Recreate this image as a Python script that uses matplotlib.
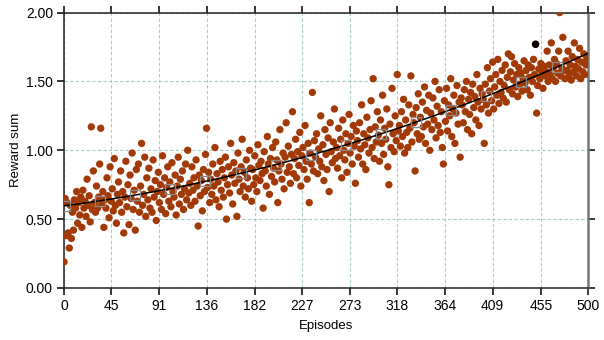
import numpy as np
import matplotlib
matplotlib.use("Agg")
import matplotlib.pyplot as plt

# ---- data ----
reward = [
    0.19, 0.65, 0.38, 0.62, 0.40, 0.29, 0.60, 0.36, 0.55, 0.42, 0.64, 0.58, 0.70, 0.47, 0.62, 0.53, 0.66, 0.44, 0.71, 0.58,
    0.63, 0.52, 0.79, 0.60, 0.67, 0.48, 1.17, 0.57, 0.85, 0.62, 0.55, 0.74, 0.58, 0.66, 0.90, 1.16, 0.61, 0.70, 0.44, 0.64,
    0.58, 0.80, 0.67, 0.51, 0.88, 0.63, 0.72, 0.56, 0.94, 0.60, 0.47, 0.68, 0.77, 0.62, 0.85, 0.55, 0.70, 0.40, 0.66, 0.92,
    0.59, 0.75, 0.46, 0.82, 0.65, 0.98, 0.57, 0.71, 0.42, 0.86, 0.63, 0.90, 0.55, 0.74, 1.05, 0.60, 0.68, 0.95, 0.52, 0.80,
    0.64, 0.87, 0.58, 0.72, 0.55, 0.93, 0.66, 0.78, 0.49, 0.70, 0.84, 0.62, 0.75, 0.57, 0.96, 0.68, 0.80, 0.54, 0.73, 0.88,
    0.63, 0.77, 0.59, 0.91, 0.70, 0.66, 0.82, 0.53, 0.74, 0.95, 0.61, 0.79, 0.68, 0.85, 0.57, 0.72, 0.90, 0.64, 1.00, 0.69,
    0.76, 0.60, 0.88, 0.71, 0.80, 0.63, 0.93, 0.74, 0.45, 0.82, 0.67, 0.78, 0.56, 0.86, 0.70, 0.97, 1.16, 0.73, 0.84, 0.62,
    0.79, 0.68, 0.90, 0.74, 1.02, 0.64, 0.83, 0.77, 0.59, 0.92, 0.71, 0.86, 0.66, 0.80, 0.95, 0.50, 0.75, 0.88, 0.69, 1.05,
    0.82, 0.61, 0.91, 0.76, 0.85, 0.52, 0.98, 0.79, 0.70, 0.88, 1.08, 0.74, 0.84, 0.66, 0.93, 0.80, 0.72, 1.00, 0.87, 0.63,
    0.86, 0.75, 0.96, 0.80, 0.70, 1.04, 0.89, 0.78, 0.92, 0.83, 0.58, 0.99, 0.85, 0.74, 1.10, 0.90, 0.68, 0.94, 0.81, 1.02,
    0.87, 0.77, 1.06, 0.93, 0.62, 0.85, 1.15, 0.90, 0.79, 0.98, 0.72, 0.95, 1.20, 0.84, 1.03, 0.88, 0.76, 0.97, 1.28, 0.83,
    0.94, 1.08, 0.80, 0.99, 0.89, 1.13, 0.74, 0.96, 1.02, 0.86, 1.18, 0.92, 0.79, 1.05, 0.62, 0.98, 0.90, 1.42, 0.85, 1.07,
    0.95, 1.12, 0.83, 1.01, 0.92, 1.25, 0.88, 1.04, 0.78, 1.15, 0.97, 0.86, 1.09, 0.70, 1.20, 0.99, 0.91, 1.06, 1.30, 0.94,
    1.02, 0.87, 1.16, 0.96, 1.08, 0.80, 1.22, 1.00, 0.93, 1.12, 0.84, 1.05, 1.26, 0.98, 1.10, 0.90, 1.18, 1.03, 0.76, 1.14,
    1.07, 0.95, 1.20, 1.01, 1.33, 0.90, 1.12, 1.04, 0.86, 1.24, 1.09, 0.98, 1.15, 1.36, 1.02, 1.52, 0.94, 1.17, 1.06, 1.28,
    1.11, 0.92, 1.22, 1.05, 1.40, 0.97, 1.16, 1.08, 1.30, 0.88, 0.75, 1.19, 1.02, 1.45, 1.12, 0.99, 1.25, 1.07, 1.55, 1.14,
    1.18, 1.03, 1.28, 1.10, 1.37, 0.98, 1.22, 1.13, 1.02, 1.33, 1.16, 1.54, 1.06, 1.26, 1.20, 0.85, 1.31, 1.12, 1.41, 1.08,
    1.24, 1.10, 1.35, 1.17, 1.46, 1.05, 1.29, 1.19, 1.40, 1.00, 1.27, 1.15, 1.38, 1.22, 1.50, 1.09, 1.32, 1.18, 1.44, 1.13,
    1.28, 1.02, 0.90, 1.36, 1.21, 1.45, 1.14, 1.33, 1.25, 1.52, 1.10, 1.30, 1.40, 1.05, 1.27, 1.47, 1.19, 1.35, 0.95, 1.38,
    1.33, 1.20, 1.44, 1.28, 1.50, 1.15, 1.37, 1.26, 1.42, 1.12, 1.48, 1.31, 1.39, 1.22, 1.55, 1.35, 1.18, 1.45, 1.30, 1.41,
    1.37, 1.05, 1.48, 1.33, 1.60, 1.27, 1.43, 1.52, 1.36, 1.64, 1.30, 1.46, 1.55, 1.40, 1.66, 1.34, 1.50, 1.42, 1.58, 1.38,
    1.47, 1.62, 1.35, 1.53, 1.70, 1.44, 1.57, 1.68, 1.41, 1.51, 1.63, 1.46, 1.55, 1.39, 1.60, 1.48, 1.56, 1.43, 1.52, 1.65,
    1.49, 1.58, 1.44, 1.62, 1.53, 1.40, 1.60, 1.50, 1.66, 1.55, 1.77, 1.27, 1.47, 1.59, 1.52, 1.63, 1.57, 1.45, 1.61, 1.54,
    1.57, 1.72, 1.50, 1.62, 1.55, 1.78, 1.52, 1.60, 1.66, 1.50, 1.63, 1.56, 1.72, 2.00, 1.54, 1.60, 1.82, 1.58, 1.52, 1.65,
    1.58, 1.72, 1.55, 1.62, 1.51, 1.68, 1.57, 1.78, 1.61, 1.54, 1.66, 1.59, 1.74, 1.52, 1.64, 1.57, 1.70, 1.55, 1.62, 1.67,
]
episodes = list(range(len(reward)))
highlight_episode = 450
highlight_value = 1.77
xtick_labels = [0, 45, 91, 136, 182, 227, 273, 318, 364, 409, 455, 500]
ytick_labels = [0.0, 0.5, 1.0, 1.5, 2.0]
trend_marker_episodes = [1, 34.5, 68, 101.5, 135, 168.5, 202, 235.5, 269, 302.5, 336, 369.5, 403, 436.5, 470]

plt.rcParams['font.family'] = ['Liberation Sans', 'DejaVu Sans']

fig = plt.figure(figsize=(6.04, 3.40), dpi=100)
ax = fig.add_axes([0.106, 0.153, 0.8675, 0.81])

x = np.array(episodes)
y = np.array(reward)

ax.scatter(x, y, s=28, color='#a23a08', edgecolors='none', zorder=3)
ax.scatter([highlight_episode], [highlight_value], s=28, color='black', edgecolors='none', zorder=4)

coef = np.polyfit(x, y, 2)
xs = np.linspace(0, 500, 501)
ax.plot(xs, np.polyval(coef, xs), color='black', lw=1.1, zorder=5)
mx = np.array(trend_marker_episodes)
ax.plot(mx, np.polyval(coef, mx), ls='none', marker='s', ms=6.5, mfc='none',
        mec='#8a8a8a', mew=0.9, zorder=5)

ax.set_xlim(0, 500)
ax.set_ylim(0, 2.0)
ax.set_xticks(xtick_labels)
ax.set_xticklabels([str(v) for v in xtick_labels])
ax.set_yticks(ytick_labels)
ax.set_yticklabels(['%.2f' % v for v in ytick_labels])

ax.grid(True, color='#a9cccc', lw=0.8, ls=(0, (3, 2)))
ax.set_axisbelow(True)

ax.tick_params(axis='both', which='both', direction='out', length=5, width=1.1,
               labelsize=10, colors='black', pad=3)
ax.tick_params(top=True, right=True)
for s in ['left', 'bottom', 'top']:
    ax.spines[s].set_color('#222222')
    ax.spines[s].set_linewidth(1.1)
ax.spines['right'].set_color('#777777')
ax.spines['right'].set_linewidth(1.8)

ax.set_xlabel('Episodes', fontsize=9.5, labelpad=5)
ax.set_ylabel('Reward sum', fontsize=9.5, labelpad=3)

fig.savefig('out.png', dpi=100)
